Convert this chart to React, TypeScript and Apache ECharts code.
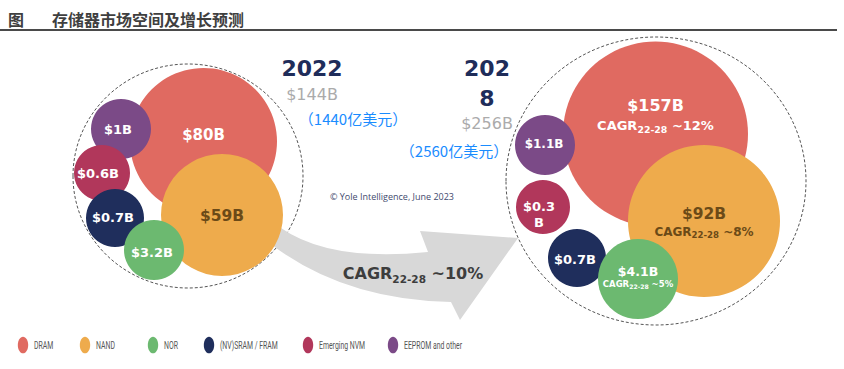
import React, { useEffect, useRef } from "react";
import * as echarts from "echarts";

// ---------- data ----------
const categories = ["DRAM", "NAND", "NOR", "(NV)SRAM / FRAM", "Emerging NVM", "EEPROM and other"];
const yearLabels = ["2022", "2028"];
const values2022 = [80, 59, 3.2, 0.7, 0.6, 1];
const values2028 = [157, 92, 4.1, 0.7, 0.3, 1.1];
const cagr22to28: (number | null)[] = [12, 8, 5, null, null, null];
const marketTotals = [144, 256];
const marketTotalsCn = [1440, 2560];
const totalCagr = 10;
const titleText = "存储器市场空间及增长预测";
const sourceText = "© Yole Intelligence, June 2023";

// ---------- styles / layout ----------
const colors = ["#e06a61", "#eeab4c", "#6cb970", "#1f2e5c", "#b1375b", "#7b4a87"];
const layout2022 = [
  [203.5, 141.5, 73.5],
  [222, 215, 61],
  [154, 250, 30],
  [115, 218, 29],
  [102, 173, 28],
  [121, 129, 30],
];
const layout2028 = [
  [655.5, 134, 92.5],
  [704, 221, 76],
  [638, 279, 40],
  [577, 258, 29],
  [543, 207, 27],
  [545, 145, 30],
];
type LS = { size: number; sub?: number; lh?: number; color: string; dx?: number; dy?: number; wrap?: boolean };
const labelStyle2022: LS[] = [
  { size: 15, color: "#ffffff", dy: -7 },
  { size: 15.5, color: "#6b4a17", dy: 1 },
  { size: 13, color: "#ffffff", dy: 2, dx: -2 },
  { size: 13, color: "#ffffff", dy: -1, dx: -2 },
  { size: 13, color: "#ffffff", dy: 0, dx: -4 },
  { size: 13, color: "#ffffff", dy: 0, dx: -3 },
];
const labelStyle2028: LS[] = [
  { size: 16, sub: 13, lh: 22, color: "#ffffff", dy: -20 },
  { size: 15.5, sub: 12, lh: 19, color: "#6b4a17", dy: 1 },
  { size: 12.5, sub: 8.5, lh: 14, color: "#ffffff", dy: -2 },
  { size: 13, color: "#ffffff", dy: 1, dx: -2 },
  { size: 13, color: "#ffffff", dy: 7, dx: -4, wrap: true },
  { size: 12, color: "#ffffff", dy: -1, dx: -1 },
];
const drawOrder = [0, 1, 5, 4, 3, 2];
const legendMarkerX = [23, 85, 153, 209, 308, 393];
const LABEL_FONT = "'DejaVu Sans', sans-serif";

const arrowPath =
  "M281 228 Q330 262 428 252 L420 231 L518 238 L460 320 L451 302 Q345 300 272 245 Z";
echarts.graphic.registerShape("cagrArrow", echarts.graphic.extendPath(arrowPath, {}) as any);

function money(v: number) {
  return "$" + v + "B";
}

function buildLabel(v: number, c: number | null, ls: LS) {
  const main = ls.wrap ? money(v).replace(/B$/, "\nB") : money(v);
  let formatter = main
    .split("\n")
    .map((s) => "{v|" + s + "}")
    .join("\n");
  const rich: any = {
    v: {
      fontSize: ls.size,
      fontWeight: "bold",
      fontFamily: LABEL_FONT,
      color: ls.color,
      lineHeight: ls.lh ? ls.lh : Math.round(ls.size * 1.25),
      verticalAlign: "middle",
    },
  };
  if (c !== null && ls.sub) {
    formatter += "\n{c|CAGR}{s|22-28}{c| ~" + c + "%}";
    rich.c = {
      fontSize: ls.sub,
      fontWeight: "bold",
      fontFamily: LABEL_FONT,
      color: ls.color,
      lineHeight: Math.round(ls.sub * 1.35),
      verticalAlign: "middle",
    };
    rich.s = {
      fontSize: Math.round(ls.sub * 0.72 * 10) / 10,
      fontWeight: "bold",
      fontFamily: LABEL_FONT,
      color: ls.color,
      verticalAlign: "bottom",
    };
  }
  return {
    show: true,
    position: "inside",
    offset: [ls.dx || 0, ls.dy || 0],
    formatter,
    rich,
  };
}

export default function App() {
  const ref = useRef<HTMLDivElement>(null);
  useEffect(() => {
    if (!ref.current) return;
    const chart = echarts.init(ref.current, undefined, { renderer: "svg" });

    const series = drawOrder.map((i) => ({
      type: "scatter",
      name: categories[i],
      silent: true,
      z: 3,
      itemStyle: { color: colors[i], opacity: 1 },
      emphasis: { disabled: true },
      data: [
        {
          name: yearLabels[0],
          value: [layout2022[i][0], layout2022[i][1]],
          symbolSize: layout2022[i][2] * 2,
          label: buildLabel(values2022[i], null, labelStyle2022[i]),
        },
        {
          name: yearLabels[1],
          value: [layout2028[i][0], layout2028[i][1]],
          symbolSize: layout2028[i][2] * 2,
          label: buildLabel(values2028[i], cagr22to28[i], labelStyle2028[i]),
        },
      ],
    }));

    const txt = (x: number, y: number, text: string, style: any, extra: any = {}) => ({
      type: "text",
      x,
      y,
      z: 50,
      silent: true,
      ...extra,
      style: {
        text,
        align: "center",
        verticalAlign: "middle",
        textAlign: "center",
        textVerticalAlign: "middle",
        ...style,
      },
    });

    const legendEls: any[] = [];
    categories.forEach((name, i) => {
      legendEls.push({
        type: "ellipse",
        z: 50,
        silent: true,
        shape: { cx: legendMarkerX[i], cy: 345, rx: 5.2, ry: 8.3 },
        style: { fill: colors[i] },
      });
      legendEls.push(
        txt(legendMarkerX[i] + 11, 345, name, {
          fontSize: 11.5,
          fontFamily: "Roboto, sans-serif",
          fill: "#555555",
          align: "left",
          textAlign: "left",
        }, { scaleX: 0.6 })
      );
    });

    const year2 = yearLabels[1].slice(0, 3) + "\n" + yearLabels[1].slice(3);

    const option: any = {
      animation: false,
      grid: { left: 0, right: 0, top: 0, bottom: 0 },
      xAxis: { type: "value", min: 0, max: 844, show: false },
      yAxis: { type: "value", min: 0, max: 369, inverse: true, show: false },
      series,
      graphic: {
        elements: [
          // title
          txt(8, 19, "图", {
            fontSize: 16,
            fontWeight: "bold",
            fontFamily: "'Noto Sans CJK SC', sans-serif",
            fill: "#3f3f3f",
            align: "left",
            textAlign: "left",
          }),
          txt(52, 19, titleText, {
            fontSize: 16,
            fontWeight: "bold",
            fontFamily: "'Noto Sans CJK SC', sans-serif",
            fill: "#3f3f3f",
            align: "left",
            textAlign: "left",
          }),
          {
            type: "rect",
            z: 50,
            silent: true,
            shape: { x: 0, y: 29, width: 837, height: 2 },
            style: { fill: "#4a4a4a" },
          },
          // dashed outlines
          {
            type: "ellipse",
            z: 1,
            silent: true,
            shape: { cx: 188, cy: 176, rx: 115, ry: 112 },
            style: { fill: "none", stroke: "#555555", lineWidth: 1, lineDash: [3, 2] },
          },
          {
            type: "ellipse",
            z: 1,
            silent: true,
            shape: { cx: 656, cy: 181, rx: 150, ry: 144 },
            style: { fill: "none", stroke: "#555555", lineWidth: 1, lineDash: [3, 2] },
          },
          // growth arrow
          {
            type: "cagrArrow",
            x: 0,
            y: 0,
            z: 1,
            silent: true,
            style: { fill: "#d8d8d8" },
          },
          txt(413, 273, "{a|CAGR}{b|22-28}{a| ~" + totalCagr + "%}", {
            rich: {
              a: {
                fontSize: 16,
                fontWeight: "bold",
                fontFamily: LABEL_FONT,
                fill: "#3d3d3d",
                lineHeight: 22,
                verticalAlign: "middle",
              },
              b: {
                fontSize: 10.5,
                fontWeight: "bold",
                fontFamily: LABEL_FONT,
                fill: "#3d3d3d",
                verticalAlign: "bottom",
              },
            },
          }),
          // year headings
          txt(312, 68, yearLabels[0], {
            fontSize: 22,
            fontWeight: "bold",
            fontFamily: LABEL_FONT,
            fill: "#1f2d5a",
          }),
          txt(312, 94, money(marketTotals[0]), {
            fontSize: 16,
            fontFamily: LABEL_FONT,
            fill: "#ababab",
          }),
          txt(353, 118, "（" + marketTotalsCn[0] + "亿美元）", {
            fontSize: 15,
            fontFamily: "'Noto Sans CJK SC', sans-serif",
            fill: "#1a8cff",
          }),
          txt(487, 83, year2, {
            fontSize: 22,
            fontWeight: "bold",
            lineHeight: 30,
            fontFamily: LABEL_FONT,
            fill: "#1f2d5a",
          }),
          txt(487, 123, money(marketTotals[1]), {
            fontSize: 16,
            fontFamily: LABEL_FONT,
            fill: "#ababab",
          }),
          txt(454, 150, "（" + marketTotalsCn[1] + "亿美元）", {
            fontSize: 15,
            fontFamily: "'Noto Sans CJK SC', sans-serif",
            fill: "#1a8cff",
          }),
          txt(392, 196, sourceText, {
            fontSize: 9,
            fontFamily: "'Open Sans', sans-serif",
            fill: "#3f4a6e",
          }),
          ...legendEls,
        ],
      },
    };

    chart.setOption(option);
    return () => chart.dispose();
  }, []);

  return (
    <div
      ref={ref}
      style={{ position: "fixed", left: 0, top: 0, width: 844, height: 369, background: "#ffffff" }}
    />
  );
}
